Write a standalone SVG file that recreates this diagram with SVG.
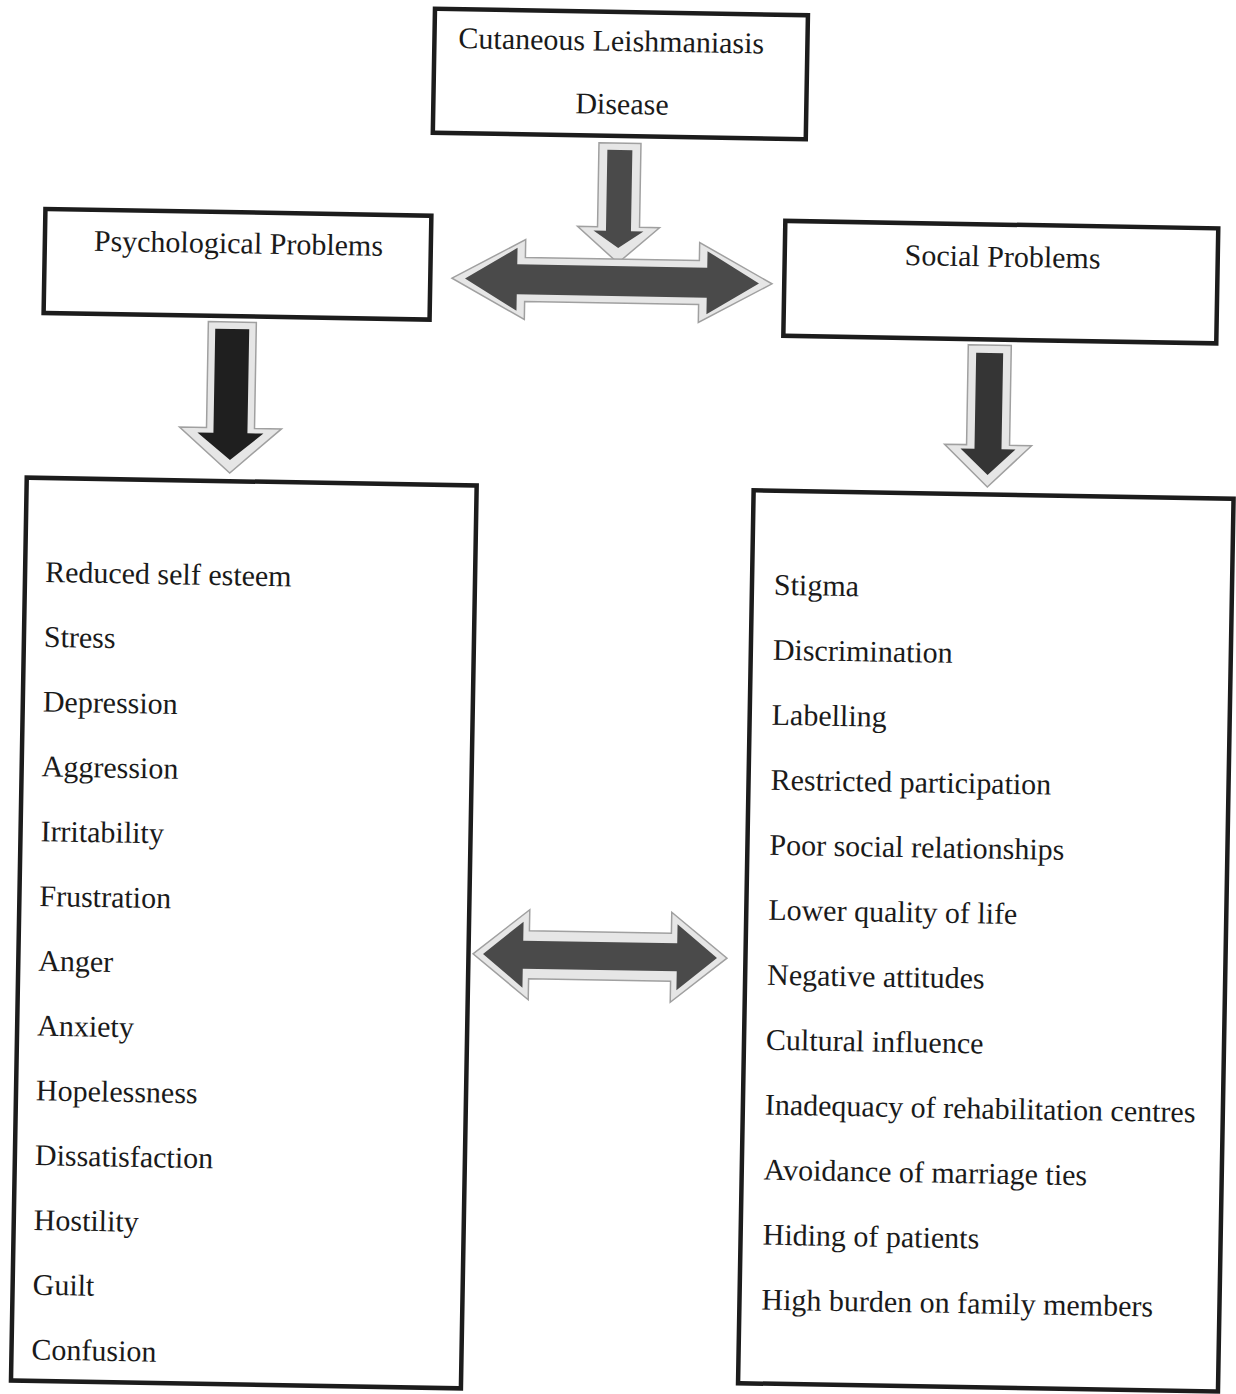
<svg xmlns="http://www.w3.org/2000/svg" width="1236" height="1394" viewBox="0 0 1236 1394">
<defs>
<style>
.box{fill:#ffffff;stroke:#1c1c1c;stroke-width:4.5}
.t{font-family:"Liberation Serif","Times New Roman",serif;font-size:30px;fill:#1a1a1a}
.out{fill:#e6e6e6;stroke:#a0a0a0;stroke-width:1.5;stroke-linejoin:miter}
.g1{fill:#4a4a4a}
.g2{fill:#1f1f1f}
.g3{fill:#353535}
</style>
</defs>
<rect width="1236" height="1394" fill="#ffffff"/>
<g id="connectors">
<g transform="rotate(1 619 200)">
<polygon class="out" points="598,143 640,143 640,227 660,227 619,263 578,227 598,227"/>
<polygon class="g1" points="606.5,150 631.5,150 631.5,231 644,231 619,248 594,231 606.5,231"/>
</g>
<g transform="rotate(1 612 281)">
<polygon class="out" points="452,281 525,241 525,259 699,259 699,241 772,281 699,321 699,303 525,303 525,321"/>
<polygon class="g1" points="465,281 517,249.5 517,266 707,266 707,249.5 759,281 707,312.5 707,296 517,296 517,312.5"/>
</g>
<g transform="rotate(1 231 400)">
<polygon class="out" points="207,322 255,322 255,428 282,428 231,473 180,428 207,428"/>
<polygon class="g2" points="214,329 248,329 248,433 264,433 231,460 198,433 214,433"/>
</g>
<g transform="rotate(1 988.5 420)">
<polygon class="out" points="967,345 1010,345 1010,445 1032,445 988.5,487 945,445 967,445"/>
<polygon class="g3" points="975,353 1002,353 1002,449 1016,449 988.5,475 961,449 975,449"/>
</g>
<g transform="rotate(1 600 956)">
<polygon class="out" points="473,956 529,911 529,932 671,932 671,911 727,956 671,1001 671,980 529,980 529,1001"/>
<polygon class="g1" points="483,956 523,923 523,942 677,942 677,923 717,956 677,989 677,970 523,970 523,989"/>
</g>
</g>
<g transform="rotate(1 618 697)">
<g id="disease">
<rect class="box" x="423" y="12" width="373" height="124"/>
<text class="t" x="447" y="51">Cutaneous Leishmaniasis</text>
<text class="t" x="565" y="114">Disease</text>
</g>
<g id="psychological">
<rect class="box" x="37" y="219" width="386" height="104"/>
<text class="t" x="86" y="260">Psychological Problems</text>
</g>
<g id="social">
<rect class="box" x="777" y="218" width="433" height="115"/>
<text class="t" x="897" y="260">Social Problems</text>
</g>
<g id="psychological-list">
<rect class="box" x="23" y="488" width="450" height="903"/>
<text class="t" x="43" y="592">Reduced self esteem</text>
<text class="t" x="43" y="656.8">Stress</text>
<text class="t" x="43" y="721.6">Depression</text>
<text class="t" x="43" y="786.4">Aggression</text>
<text class="t" x="43" y="851.2">Irritability</text>
<text class="t" x="43" y="916">Frustration</text>
<text class="t" x="43" y="980.8">Anger</text>
<text class="t" x="43" y="1045.6">Anxiety</text>
<text class="t" x="43" y="1110.4">Hopelessness</text>
<text class="t" x="43" y="1175.2">Dissatisfaction</text>
<text class="t" x="43" y="1240">Hostility</text>
<text class="t" x="43" y="1304.8">Guilt</text>
<text class="t" x="43" y="1369.6">Confusion</text>
</g>
<g id="social-list">
<rect class="box" x="750" y="488" width="480" height="893"/>
<text class="t" x="772" y="592">Stigma</text>
<text class="t" x="772" y="657">Discrimination</text>
<text class="t" x="772" y="722">Labelling</text>
<text class="t" x="772" y="787">Restricted participation</text>
<text class="t" x="772" y="852">Poor social relationships</text>
<text class="t" x="772" y="917">Lower quality of life</text>
<text class="t" x="772" y="982">Negative attitudes</text>
<text class="t" x="772" y="1047">Cultural influence</text>
<text class="t" x="772" y="1112">Inadequacy of rehabilitation centres</text>
<text class="t" x="772" y="1177">Avoidance of marriage ties</text>
<text class="t" x="772" y="1242">Hiding of patients</text>
<text class="t" x="772" y="1307">High burden on family members</text>
</g>
</g>
</svg>
